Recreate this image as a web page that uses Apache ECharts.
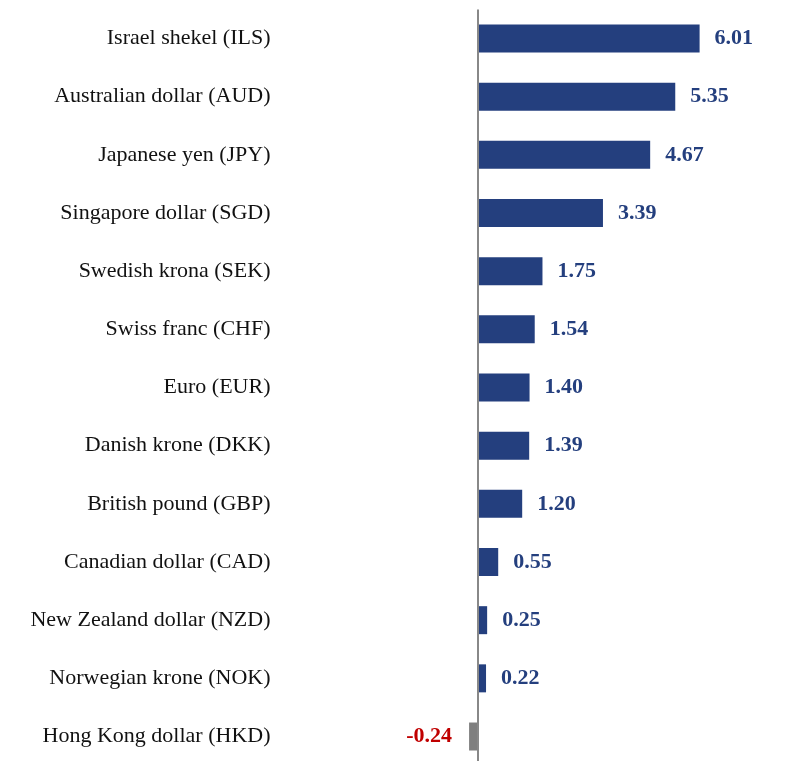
<!DOCTYPE html>
<html>
<head>
<meta charset="utf-8">
<script src="https://cdn.jsdelivr.net/npm/echarts@6/dist/echarts.min.js"></script>
<style>html,body{margin:0;padding:0;background:#fff;overflow:hidden}#c{width:808px;height:770px}</style>
</head>
<body>
<div id="c"></div>
<script>
const categories = [
  "Israel shekel (ILS)",
  "Australian dollar (AUD)",
  "Japanese yen (JPY)",
  "Singapore dollar (SGD)",
  "Swedish krona (SEK)",
  "Swiss franc (CHF)",
  "Euro (EUR)",
  "Danish krone (DKK)",
  "British pound (GBP)",
  "Canadian dollar (CAD)",
  "New Zealand dollar (NZD)",
  "Norwegian krone (NOK)",
  "Hong Kong dollar (HKD)"
];
const values = [6.01, 5.35, 4.67, 3.39, 1.75, 1.54, 1.40, 1.39, 1.20, 0.55, 0.25, 0.22, -0.24];

const posColor = "#243F7E";
const negColor = "#7F7F7F";
const posLabel = "#243F7E";
const negLabel = "#C00000";
const serif = "'Liberation Serif','DejaVu Serif',serif";

const chart = echarts.init(document.getElementById('c'));
chart.setOption({
  animation: false,
  grid: { left: 293.5, width: 479.5, top: 9.4, height: 756.2, containLabel: false },
  xAxis: {
    type: 'value', min: -5, max: 8,
    axisLine: { show: false }, axisTick: { show: false },
    axisLabel: { show: false }, splitLine: { show: false }
  },
  yAxis: {
    type: 'category', inverse: true, data: categories,
    axisLine: { show: false }, axisTick: { show: false }, splitLine: { show: false },
    axisLabel: { color: '#111', fontFamily: serif, fontSize: 22, margin: 23 }
  },
  series: [{
    type: 'bar',
    barWidth: 28,
    data: values.map(v => ({
      value: v,
      itemStyle: { color: v < 0 ? negColor : posColor },
      label: {
        show: true,
        position: v < 0 ? 'left' : 'right',
        distance: v < 0 ? 17 : 15,
        color: v < 0 ? negLabel : posLabel,
        fontFamily: serif, fontWeight: 'bold', fontSize: 22,
        formatter: p => p.value.toFixed(2)
      }
    })),
    markLine: {
      silent: true, symbol: 'none',
      label: { show: false },
      lineStyle: { color: '#888', width: 2, type: 'solid' },
      data: [{ xAxis: 0 }]
    }
  }]
});
</script>
</body>
</html>
